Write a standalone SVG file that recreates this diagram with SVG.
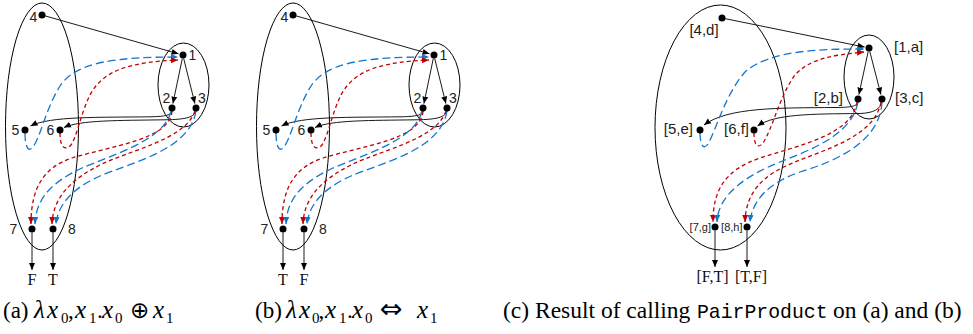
<svg xmlns="http://www.w3.org/2000/svg" width="973" height="334" viewBox="0 0 973 334">
<defs>
<style>
.el{fill:none;stroke:#000;stroke-width:1}
.dot{fill:#000}
.lbl{font-family:"Liberation Sans",Arial,sans-serif;font-size:14px;fill:#222}
.lc{font-size:15px}
.sm{font-size:11px}
.ser{font-family:"Liberation Serif","Times New Roman",serif;font-size:16px;fill:#111}
.cap{font-family:"Liberation Serif","Times New Roman",serif;font-size:23px;fill:#000}
.capc{font-size:23.5px}
.it{font-style:italic;font-size:25px}
.sub{font-size:15px}
.op{font-family:"DejaVu Sans","Liberation Sans",sans-serif;font-size:23px}
.op2{font-family:"DejaVu Sans","Liberation Sans",sans-serif;font-size:27px}
.mono{font-family:"Liberation Mono","Courier New",monospace;font-size:19.8px}
.ed{fill:none;stroke:#000;stroke-width:0.9;marker-end:url(#ab)}
.bl{fill:none;stroke:#1476cc;stroke-width:1.3;stroke-dasharray:8 4;marker-end:url(#abl)}
.rd{fill:none;stroke:#c00000;stroke-width:1.3;stroke-dasharray:4 3;marker-end:url(#ard)}
</style>
<marker id="ab" markerUnits="userSpaceOnUse" markerWidth="8" markerHeight="7" refX="7" refY="3.5" orient="auto"><path d="M0,0.5 L7,3.5 L0,6.5z" fill="#000"/></marker>
<marker id="abl" markerUnits="userSpaceOnUse" markerWidth="8" markerHeight="7" refX="7" refY="3.5" orient="auto"><path d="M0,0.5 L7,3.5 L0,6.5z" fill="#1476cc"/></marker>
<marker id="ard" markerUnits="userSpaceOnUse" markerWidth="8" markerHeight="7" refX="7" refY="3.5" orient="auto"><path d="M0,0.5 L7,3.5 L0,6.5z" fill="#c00000"/></marker>
</defs>

<!-- Panel (a) -->
<g id="panel-a">
<g id="a-outer"><ellipse class="el" cx="42" cy="126.5" rx="36.5" ry="123.5"/></g>
<g id="a-inner"><ellipse class="el" cx="183.5" cy="85" rx="25.5" ry="42"/></g>
<g id="a-edges">
<path class="ed" d="M42,15 L178.5,53.8"/>
<path class="ed" d="M182.3,58.5 L172.9,103.6"/>
<path class="ed" d="M183.7,58.5 L194.9,103.6"/>
<path class="ed" d="M172,111 C171,115 166,116.5 150,116.8 C100,117.5 50,116 30.5,126"/>
<path class="ed" d="M196,111 C194,117 187,119.5 165,119.8 C120,120.5 80,120 64,127.5"/>
<path class="bl" d="M25,133 C25,146 28,152 32,148 C40,140 45,110 60,86 C76,62 115,57 178,57"/>
<path class="rd" d="M60,133 C60,146 64,150 69,147 C76,142 80,115 90,95 C104,68 135,62 178,60"/>
<path class="rd" d="M172,111 C170,140 110,146 72,158 C42,168 31,190 31,224"/>
<path class="bl" d="M171,111 C165,140 112,155 82,168 C52,182 36,198 35,224"/>
<path class="rd" d="M195,111 C185,140 130,150 100,165 C70,180 53,198 52,224"/>
<path class="bl" d="M196,111 C190,150 130,163 100,176 C75,187 58,203 56,224"/>
<path class="ed" d="M32,232.5 L32,270"/>
<path class="ed" d="M53,232.5 L53,270"/>
</g>
<g id="a-n4"><circle class="dot" cx="42" cy="15" r="3.5"/><text class="lbl" x="33.5" y="22" text-anchor="middle">4</text></g>
<g id="a-n1"><circle class="dot" cx="183" cy="55" r="3.5"/><text class="lbl" x="192.5" y="60" text-anchor="middle">1</text></g>
<g id="a-n2"><circle class="dot" cx="172" cy="108" r="3.5"/><text class="lbl" x="166.5" y="103" text-anchor="middle">2</text></g>
<g id="a-n3"><circle class="dot" cx="196" cy="108" r="3.5"/><text class="lbl" x="202" y="103" text-anchor="middle">3</text></g>
<g id="a-n5"><circle class="dot" cx="25" cy="130" r="3.5"/><text class="lbl" x="15.5" y="135" text-anchor="middle">5</text></g>
<g id="a-n6"><circle class="dot" cx="60" cy="130" r="3.5"/><text class="lbl" x="50.5" y="135" text-anchor="middle">6</text></g>
<g id="a-n7"><circle class="dot" cx="32" cy="229" r="3.5"/><text class="lbl" x="13.5" y="234" text-anchor="middle">7</text></g>
<g id="a-n8"><circle class="dot" cx="53" cy="229" r="3.5"/><text class="lbl" x="72" y="234" text-anchor="middle">8</text></g>
<g id="a-out7"><text class="ser" x="32" y="285" text-anchor="middle">F</text></g>
<g id="a-out8"><text class="ser" x="53" y="285" text-anchor="middle">T</text></g>
</g>

<!-- Panel (b) -->
<g id="panel-b" transform="translate(251,0)">
<g id="b-outer"><ellipse class="el" cx="42" cy="126.5" rx="36.5" ry="123.5"/></g>
<g id="b-inner"><ellipse class="el" cx="183.5" cy="85" rx="25.5" ry="42"/></g>
<g id="b-edges">
<path class="ed" d="M42,15 L178.5,53.8"/>
<path class="ed" d="M182.3,58.5 L172.9,103.6"/>
<path class="ed" d="M183.7,58.5 L194.9,103.6"/>
<path class="ed" d="M172,111 C171,115 166,116.5 150,116.8 C100,117.5 50,116 30.5,126"/>
<path class="ed" d="M196,111 C194,117 187,119.5 165,119.8 C120,120.5 80,120 64,127.5"/>
<path class="bl" d="M25,133 C25,146 28,152 32,148 C40,140 45,110 60,86 C76,62 115,57 178,57"/>
<path class="rd" d="M60,133 C60,146 64,150 69,147 C76,142 80,115 90,95 C104,68 135,62 178,60"/>
<path class="rd" d="M172,111 C170,140 110,146 72,158 C42,168 31,190 31,224"/>
<path class="bl" d="M171,111 C165,140 112,155 82,168 C52,182 36,198 35,224"/>
<path class="rd" d="M195,111 C185,140 130,150 100,165 C70,180 53,198 52,224"/>
<path class="bl" d="M196,111 C190,150 130,163 100,176 C75,187 58,203 56,224"/>
<path class="ed" d="M32,232.5 L32,270"/>
<path class="ed" d="M53,232.5 L53,270"/>
</g>
<g id="b-n4"><circle class="dot" cx="42" cy="15" r="3.5"/><text class="lbl" x="33.5" y="22" text-anchor="middle">4</text></g>
<g id="b-n1"><circle class="dot" cx="183" cy="55" r="3.5"/><text class="lbl" x="192.5" y="60" text-anchor="middle">1</text></g>
<g id="b-n2"><circle class="dot" cx="172" cy="108" r="3.5"/><text class="lbl" x="166.5" y="103" text-anchor="middle">2</text></g>
<g id="b-n3"><circle class="dot" cx="196" cy="108" r="3.5"/><text class="lbl" x="202" y="103" text-anchor="middle">3</text></g>
<g id="b-n5"><circle class="dot" cx="25" cy="130" r="3.5"/><text class="lbl" x="15.5" y="135" text-anchor="middle">5</text></g>
<g id="b-n6"><circle class="dot" cx="60" cy="130" r="3.5"/><text class="lbl" x="50.5" y="135" text-anchor="middle">6</text></g>
<g id="b-n7"><circle class="dot" cx="32" cy="229" r="3.5"/><text class="lbl" x="13.5" y="234" text-anchor="middle">7</text></g>
<g id="b-n8"><circle class="dot" cx="53" cy="229" r="3.5"/><text class="lbl" x="72" y="234" text-anchor="middle">8</text></g>
<g id="b-out7"><text class="ser" x="32" y="285" text-anchor="middle">T</text></g>
<g id="b-out8"><text class="ser" x="53" y="285" text-anchor="middle">F</text></g>
</g>

<!-- Panel (c) -->
<g id="panel-c">
<g id="c-outer"><ellipse class="el" cx="720.5" cy="127.5" rx="65.5" ry="122.5"/></g>
<g id="c-inner"><ellipse class="el" cx="869" cy="77" rx="25" ry="42"/></g>
<g id="c-edges">
<path class="ed" d="M722,18 L864.6,47.1"/>
<path class="ed" d="M868.2,51.5 L858.9,94.6"/>
<path class="ed" d="M869.8,51.5 L880.9,94.6"/>
<path class="ed" d="M858,102 C857,106 852,107.5 835,107.5 C780,108 728,107 704,125"/>
<path class="ed" d="M882,102 C880,109 874,113 860,113.5 C810,114 775,114 757.5,126"/>
<path class="bl" d="M700,133 C700,146 704,150 708,144 C716,130 725,95 745,72 C770,50 820,49 864,49"/>
<path class="rd" d="M754,133 C754,146 758,149 763,143 C772,130 780,95 795,75 C810,58 835,55 864,52"/>
<path class="rd" d="M857,102 C852,135 800,145 760,158 C725,170 713,190 713,222"/>
<path class="bl" d="M858,102 C852,135 810,150 780,162 C745,176 718,195 717,222"/>
<path class="rd" d="M881,102 C875,135 830,148 795,162 C765,174 746,190 745,222"/>
<path class="bl" d="M882,102 C880,140 840,160 800,172 C770,182 752,200 750,222"/>
<path class="ed" d="M715,230.5 L715,267"/>
<path class="ed" d="M747,230.5 L747,267"/>
</g>
<g id="c-n4"><circle class="dot" cx="722" cy="18" r="3.5"/><text class="lbl lc" x="704" y="35" text-anchor="middle">[4,d]</text></g>
<g id="c-n1"><circle class="dot" cx="869" cy="48" r="3.5"/><text class="lbl lc" x="894" y="52">[1,a]</text></g>
<g id="c-n2"><circle class="dot" cx="858" cy="99" r="3.5"/><text class="lbl lc" x="843" y="103" text-anchor="end">[2,b]</text></g>
<g id="c-n3"><circle class="dot" cx="882" cy="99" r="3.5"/><text class="lbl lc" x="895" y="103">[3,c]</text></g>
<g id="c-n5"><circle class="dot" cx="700" cy="130" r="3.5"/><text class="lbl lc" x="693" y="134" text-anchor="end">[5,e]</text></g>
<g id="c-n6"><circle class="dot" cx="754" cy="130" r="3.5"/><text class="lbl lc" x="749" y="134" text-anchor="end">[6,f]</text></g>
<g id="c-n7"><circle class="dot" cx="715" cy="227" r="3.5"/><text class="lbl sm" x="711" y="231" text-anchor="end">[7,g]</text></g>
<g id="c-n8"><circle class="dot" cx="747" cy="227" r="3.5"/><text class="lbl sm" x="742.5" y="231" text-anchor="end">[8,h]</text></g>
<g id="c-out7"><text class="ser" x="712.5" y="282" text-anchor="middle">[F,T]</text></g>
<g id="c-out8"><text class="ser" x="751" y="282" text-anchor="middle">[T,F]</text></g>
</g>

<!-- Captions -->
<g id="captions">
<text class="cap" y="318"><tspan x="3">(a)</tspan><tspan x="34" class="it">λ</tspan><tspan x="47" class="it">x</tspan><tspan x="61" y="323" class="sub">0</tspan><tspan x="68" y="318">,</tspan><tspan x="75" class="it">x</tspan><tspan x="89" y="323" class="sub">1</tspan><tspan x="97" y="318">.</tspan><tspan x="102" class="it">x</tspan><tspan x="115" y="323" class="sub">0</tspan><tspan x="130" y="318" class="op">⊕</tspan><tspan x="153" class="it">x</tspan><tspan x="166" y="323" class="sub">1</tspan></text>
<text class="cap" y="318"><tspan x="255">(b)</tspan><tspan x="286" class="it">λ</tspan><tspan x="299" class="it">x</tspan><tspan x="312" y="323" class="sub">0</tspan><tspan x="318.5" y="318">,</tspan><tspan x="325" class="it">x</tspan><tspan x="339" y="323" class="sub">1</tspan><tspan x="347" y="318">.</tspan><tspan x="352" class="it">x</tspan><tspan x="365" y="323" class="sub">0</tspan><tspan x="380" y="318" class="op2">⇔</tspan><tspan x="417" class="it">x</tspan><tspan x="430" y="323" class="sub">1</tspan></text>
<text class="cap capc" y="318"><tspan x="503">(c) Result of calling</tspan><tspan x="697" class="mono">PairProduct</tspan><tspan x="833">on (a) and (b)</tspan></text>
</g>
</svg>
